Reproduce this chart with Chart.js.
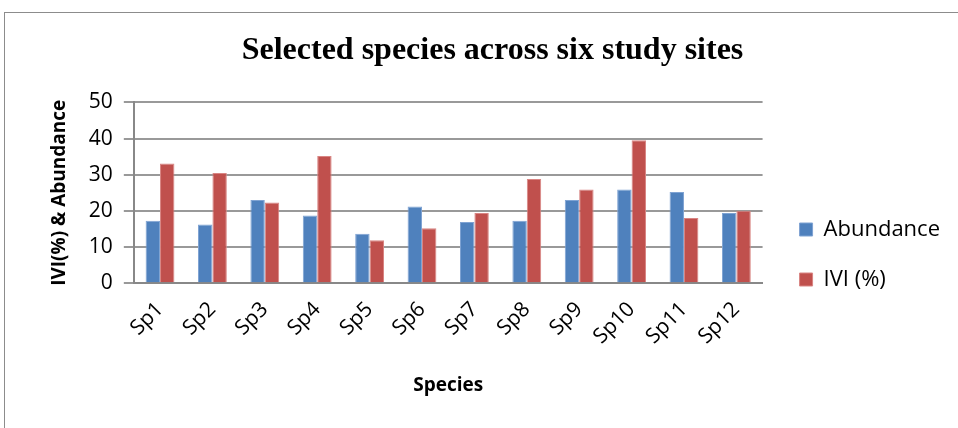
<!DOCTYPE html>
<html>
<head>
<meta charset="utf-8">
<script src="https://cdn.jsdelivr.net/npm/chart.js@4/dist/chart.umd.min.js"></script>
<style>
  html, body { margin: 0; padding: 0; background: #fff; }
  #frame { position: absolute; left: 4px; top: 12px; width: 960px; height: 420px; border: 1px solid #8c8c8c; box-sizing: border-box; }
  #wrap { position: absolute; left: 0; top: 0; width: 958px; height: 428px; }
</style>
</head>
<body>
<div id="frame"></div>
<div id="wrap"><canvas id="speciesChart" width="958" height="428"></canvas></div>
<script>
// Data
const species = ['Sp1', 'Sp2', 'Sp3', 'Sp4', 'Sp5', 'Sp6', 'Sp7', 'Sp8', 'Sp9', 'Sp10', 'Sp11', 'Sp12'];
const abundance = [17.3, 16.2, 23.0, 18.7, 13.7, 21.2, 16.9, 17.3, 23.0, 25.9, 25.2, 19.4];
const ivi = [33.1, 30.5, 22.3, 35.2, 11.9, 15.2, 19.4, 28.8, 25.9, 39.5, 18.0, 20.0];
const yTicks = [0, 10, 20, 30, 40, 50];

const tickFont = { family: 'Open Sans, sans-serif', size: 21 };
const legendFont = { family: 'Open Sans, sans-serif', size: 22 };
const axisTitleFont = { family: 'Open Sans, sans-serif', size: 19, weight: 'bold' };

// legend sits lower and a bit further right than the default in the original
const legendShift = {
    id: 'legendShift',
    afterLayout(chart) {
        chart.legend.top += 44;
        chart.legend.bottom += 44;
        chart.legend.left += 9;
        chart.legend.right += 9;
    }
};

const chart = new Chart(document.getElementById('speciesChart'), {
    type: 'bar',
    data: {
        labels: species,
        datasets: [{
            label: 'Abundance',
            data: abundance,
            backgroundColor: '#4F81BD',
            borderColor: '#7fa3d3',
            borderWidth: 1
        }, {
            label: 'IVI (%)',
            data: ivi,
            backgroundColor: '#C0504D',
            borderColor: '#d98583',
            borderWidth: 1
        }]
    },
    plugins: [legendShift],
    options: {
        responsive: false,
        animation: false,
        layout: { padding: { left: 44, right: 17, top: 20, bottom: 27 } },
        datasets: { bar: { categoryPercentage: 0.55, barPercentage: 1 } },
        plugins: {
            title: {
                display: true,
                text: 'Selected species across six study sites',
                color: '#000',
                font: { family: 'Liberation Serif, Times New Roman, serif', size: 32, weight: 'bold' },
                padding: { top: 12, bottom: 32 }
            },
            legend: {
                position: 'right',
                align: 'center',
                labels: {
                    color: '#000',
                    font: legendFont,
                    boxWidth: 13,
                    boxHeight: 13,
                    padding: 28
                }
            },
            tooltip: { enabled: false }
        },
        scales: {
            x: {
                grid: { display: false },
                border: { color: '#888', width: 2 },
                ticks: { color: '#000', font: tickFont, maxRotation: 45, minRotation: 45, padding: 6 },
                title: {
                    display: true,
                    text: 'Species',
                    color: '#000',
                    font: axisTitleFont,
                    padding: { top: 19 }
                }
            },
            y: {
                min: 0,
                max: 50,
                afterBuildTicks: (axis) => { axis.ticks = yTicks.map(v => ({ value: v })); },
                grid: { color: '#999', lineWidth: 2, tickLength: 10 },
                border: { color: '#888', width: 2 },
                ticks: { color: '#000', font: tickFont, padding: 11 },
                title: {
                    display: true,
                    text: 'IVI(%) & Abundance',
                    color: '#000',
                    font: axisTitleFont,
                    padding: { bottom: 7 }
                }
            }
        }
    }
});
</script>
</body>
</html>
